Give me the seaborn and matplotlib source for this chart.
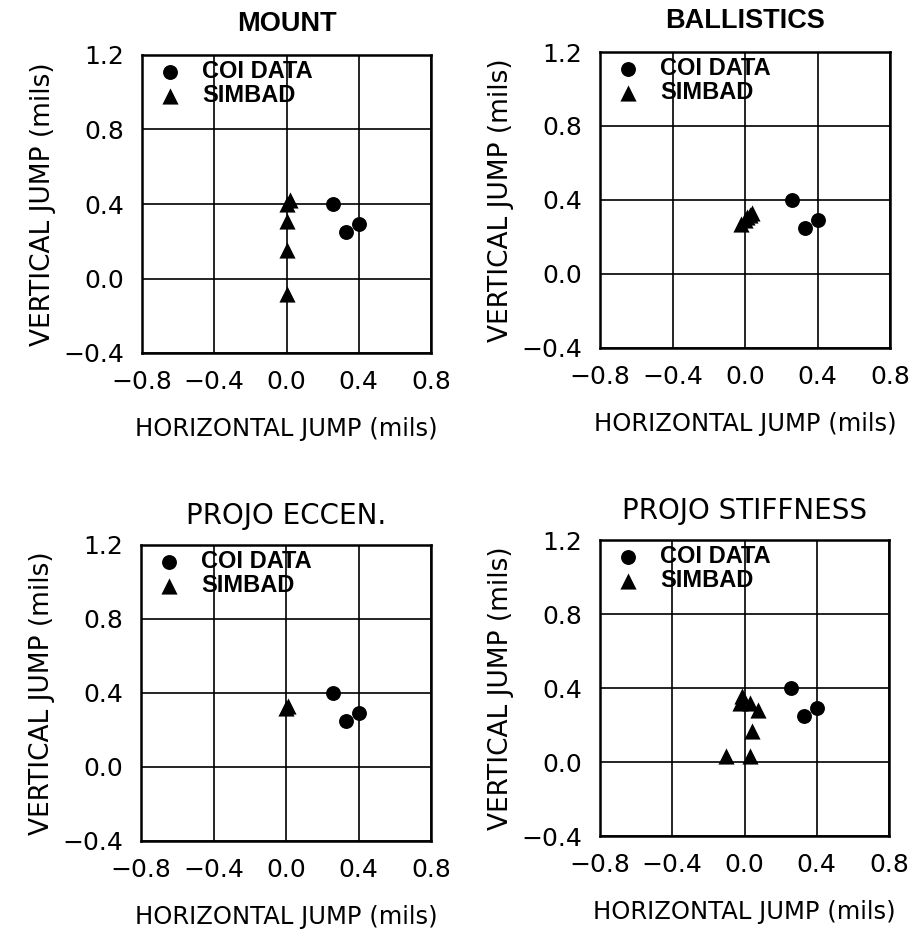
import numpy as np
import pandas as pd
import matplotlib
matplotlib.use("Agg")
import matplotlib.pyplot as plt
import seaborn as sns

sns.set_theme(style="white")
plt.rcParams['font.family'] = ['DejaVu Sans']
plt.rcParams['text.color'] = 'black'

# ---- data ----
panels = ["MOUNT", "BALLISTICS", "PROJO ECCEN.", "PROJO STIFFNESS"]
series_names = ["COI DATA", "SIMBAD"]

coi_x = [0.26, 0.33, 0.40]
coi_y = [0.40, 0.25, 0.29]

mount_x = [0.0, 0.02, 0.0, 0.0, 0.0]
mount_y = [0.40, 0.42, 0.31, 0.155, -0.085]

ball_x = [-0.02, 0.0, 0.01, 0.03, 0.04]
ball_y = [0.27, 0.29, 0.31, 0.32, 0.33]

ecc_x = [0.0, 0.01]
ecc_y = [0.32, 0.33]

stiff_x = [-0.015, -0.024, 0.03, 0.072, 0.04, -0.10, 0.03]
stiff_y = [0.355, 0.32, 0.32, 0.283, 0.166, 0.03, 0.034]

simbad = {
    "MOUNT": (mount_x, mount_y),
    "BALLISTICS": (ball_x, ball_y),
    "PROJO ECCEN.": (ecc_x, ecc_y),
    "PROJO STIFFNESS": (stiff_x, stiff_y),
}

ticks = [-0.8, -0.4, 0.0, 0.4, 0.8]
yticks = [-0.4, 0.0, 0.4, 0.8, 1.2]
xlabels = ["\u22120.8", "\u22120.4", "0.0", "0.4", "0.8"]
ylabels = ["\u22120.4", "0.0", "0.4", "0.8", "1.2"]

rows = []
for p in panels:
    for x, y in zip(coi_x, coi_y):
        rows.append((p, "COI DATA", x, y))
    sx, sy = simbad[p]
    for x, y in zip(sx, sy):
        rows.append((p, "SIMBAD", x, y))
df = pd.DataFrame(rows, columns=["panel", "series", "x", "y"])

W, H = 924, 939
fig = plt.figure(figsize=(W / 100, H / 100), dpi=100)

# axes boxes in pixels: left, top, right, bottom
boxes = {
    "MOUNT": (142, 55, 431, 353),
    "BALLISTICS": (600, 52, 890, 348),
    "PROJO ECCEN.": (141, 545, 431, 841),
    "PROJO STIFFNESS": (600, 540, 889, 836),
}
title_bold = {"MOUNT": True, "BALLISTICS": True, "PROJO ECCEN.": False, "PROJO STIFFNESS": False}

for p in panels:
    l, t, r, b = boxes[p]
    ax = fig.add_axes([l / W, 1 - b / H, (r - l) / W, (b - t) / H])
    sub = df[df.panel == p]
    sns.scatterplot(data=sub[sub.series == "COI DATA"], x="x", y="y", marker="o",
                    color="black", s=115, edgecolor="black", linewidth=0,
                    ax=ax, label="COI DATA", zorder=3)
    sns.scatterplot(data=sub[sub.series == "SIMBAD"], x="x", y="y", marker="^",
                    color="black", s=135, edgecolor="black", linewidth=0,
                    ax=ax, label="SIMBAD", zorder=3)
    ax.set_xlim(-0.8, 0.8)
    ax.set_ylim(-0.4, 1.2)
    ax.set_xticks(ticks)
    ax.set_xticklabels(xlabels)
    ax.set_yticks(yticks)
    ax.set_yticklabels(ylabels)
    ax.grid(True, color="black", linewidth=1.2)
    ax.set_axisbelow(True)
    for sp in ax.spines.values():
        sp.set_color("black")
        sp.set_linewidth(1.8)
    ax.tick_params(axis="both", length=0, labelsize=18, colors="black")
    ax.tick_params(axis="x", pad=12)
    ax.tick_params(axis="y", pad=13)
    ax.set_xlabel("HORIZONTAL JUMP (mils)", fontsize=17.5, color="black")
    ax.set_ylabel("VERTICAL JUMP (mils)", fontsize=19, color="black")
    ax.xaxis.set_label_coords(0.5, -64 / (b - t))
    ax.yaxis.set_label_coords(-86 / (r - l), 0.5)
    if title_bold[p]:
        ax.set_title(p, fontsize=19.5, fontweight="bold", family="Liberation Sans", pad=17, color="black")
    else:
        ax.set_title(p, fontsize=20, pad=15, color="black")
    ax.legend(loc="upper left", frameon=False, borderaxespad=0.0, borderpad=0.2,
              handlelength=2.0, handletextpad=0.35, labelspacing=0.05, labelcolor="black",
              prop={"family": "Liberation Sans", "weight": "bold", "size": 17})

fig.savefig("out.png", dpi=100)
